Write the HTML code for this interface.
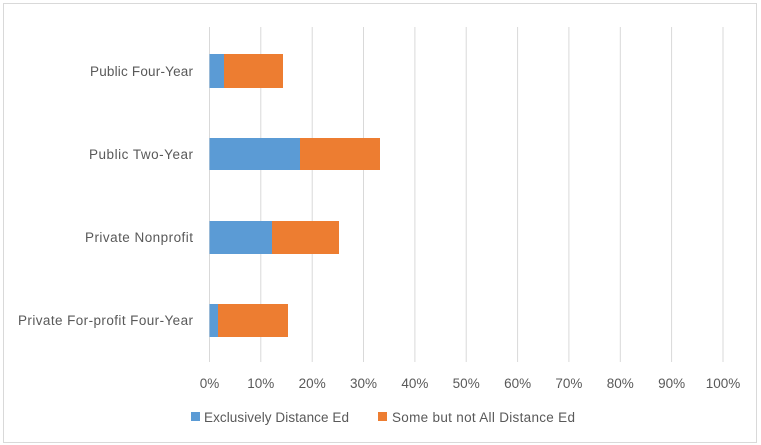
<!DOCTYPE html>
<html><head><style>body{margin:0;background:#fff}svg{display:block}</style></head><body>
<svg width="761" height="445" xmlns="http://www.w3.org/2000/svg" font-family="Liberation Sans, sans-serif" font-size="13.5" fill="#595959">
<rect x="3.5" y="3.5" width="753" height="439" fill="#fff" stroke="#d9d9d9"/>
<g stroke="#d9d9d9" stroke-width="1">
<line x1="209.5" y1="27" x2="209.5" y2="362"/><line x1="260.8" y1="27" x2="260.8" y2="362"/><line x1="312.2" y1="27" x2="312.2" y2="362"/><line x1="363.5" y1="27" x2="363.5" y2="362"/><line x1="414.9" y1="27" x2="414.9" y2="362"/><line x1="466.2" y1="27" x2="466.2" y2="362"/><line x1="517.6" y1="27" x2="517.6" y2="362"/><line x1="568.9" y1="27" x2="568.9" y2="362"/><line x1="620.3" y1="27" x2="620.3" y2="362"/><line x1="671.6" y1="27" x2="671.6" y2="362"/><line x1="723" y1="27" x2="723" y2="362"/>
</g>
<rect x="209.5" y="54" width="14.5" height="34" fill="#5b9bd5"/><rect x="224" y="54" width="59" height="34" fill="#ed7d31"/>
<rect x="209.5" y="138" width="90.5" height="32" fill="#5b9bd5"/><rect x="300" y="138" width="80" height="32" fill="#ed7d31"/>
<rect x="209.5" y="221" width="62.5" height="33" fill="#5b9bd5"/><rect x="272" y="221" width="67" height="33" fill="#ed7d31"/>
<rect x="209.5" y="304" width="8.5" height="33" fill="#5b9bd5"/><rect x="218" y="304" width="70" height="33" fill="#ed7d31"/>
<g text-anchor="end">
<text x="193" y="76" textLength="103">Public Four-Year</text>
<text x="193" y="159" textLength="104">Public Two-Year</text>
<text x="193" y="242" textLength="108">Private Nonprofit</text>
<text x="193" y="325" textLength="175">Private For-profit Four-Year</text>
</g>
<g text-anchor="middle">
<text x="209.5" y="388">0%</text><text x="260.8" y="388">10%</text><text x="312.2" y="388">20%</text><text x="363.5" y="388">30%</text><text x="414.9" y="388">40%</text><text x="466.2" y="388">50%</text><text x="517.6" y="388">60%</text><text x="568.9" y="388">70%</text><text x="620.3" y="388">80%</text><text x="671.6" y="388">90%</text><text x="723" y="388">100%</text>
</g>
<rect x="191" y="412" width="9" height="9" fill="#5b9bd5"/>
<text x="204" y="422" textLength="145">Exclusively Distance Ed</text>
<rect x="378" y="412" width="9" height="9" fill="#ed7d31"/>
<text x="392" y="422" textLength="183">Some but not All Distance Ed</text>
</svg>
</body></html>
